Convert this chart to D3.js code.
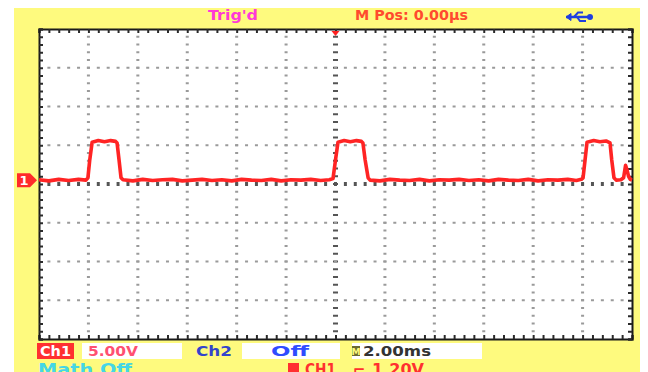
<!DOCTYPE html>
<html>
<head>
<meta charset="utf-8">
<script src="https://cdn.jsdelivr.net/npm/d3@7/dist/d3.min.js"></script>
<style>
  html, body { margin: 0; padding: 0; background: #ffffff; }
  svg { display: block; }
  text { font-family: "DejaVu Sans", "Liberation Sans", sans-serif; font-weight: bold; }
</style>
</head>
<body>
<svg id="scope" width="648" height="372"></svg>
<script>
// ---- Acquisition settings ----
const timePerDiv = 2.0;        // ms / div
const voltsPerDiv = 5.0;       // V / div (CH1)
const hDivs = 12;
const vDivs = 8;
const ch1Offset = 0.5;         // V, ground marker just above screen centre

// ---- CH1 trace samples (time in ms, voltage in V) ----
const traceTime = [
  -12.0, -11.6, -11.2, -10.8, -10.4, -10.1, -10.02, -9.95, -9.85, -9.6, -9.35, -9.1, -8.9, -8.84, -8.76, -8.68, -8.6,
  -8.2, -7.8, -7.4, -7.0, -6.6, -6.2, -5.8, -5.4, -5.0, -4.6, -4.2, -3.8, -3.4, -3.0, -2.6, -2.2, -1.8, -1.4, -1.0, -0.6, -0.25,
  -0.1, 0.0, 0.1, 0.35, 0.6, 0.85, 1.05, 1.11, 1.2, 1.32, 1.4,
  1.8, 2.2, 2.6, 3.0, 3.4, 3.8, 4.2, 4.6, 5.0, 5.4, 5.8, 6.2, 6.6, 7.0, 7.4, 7.8, 8.2, 8.6, 9.0, 9.4, 9.75, 9.95,
  10.02, 10.1, 10.18, 10.45, 10.7, 10.95, 11.11, 11.18, 11.27, 11.36,
  11.55, 11.66, 11.74, 11.8, 11.86, 11.93, 12.0
];
const traceVolts = [
  0.05, -0.1, 0.1, -0.05, 0.1, 0.0, 0.3, 2.5, 4.9, 5.1, 4.95, 5.1, 5.0, 4.8, 2.6, 0.3, 0.05,
  -0.1, 0.1, -0.05, 0.05, 0.1, -0.1, 0.0, 0.1, -0.05, 0.05, -0.1, 0.1, 0.0, -0.05, 0.1, -0.1, 0.05, 0.0, 0.1, -0.05, 0.05,
  0.2, 2.6, 4.9, 5.1, 4.95, 5.1, 5.0, 4.8, 2.6, 0.3, 0.0,
  -0.1, 0.1, 0.0, -0.05, 0.1, -0.1, 0.05, 0.0, 0.1, -0.05, 0.05, -0.1, 0.1, 0.0, -0.05, 0.1, -0.1, 0.05, 0.0, 0.1, -0.05, 0.1,
  0.3, 2.6, 4.9, 5.1, 4.95, 5.05, 4.8, 2.6, 0.3, 0.0,
  0.05, 0.3, 1.9, 1.3, 0.5, 0.1, 0.0
];

// ---- Status text ----
const topLabels = ["Trig'd", "M Pos: 0.00\u00b5s"];
const ch1Labels = ["Ch1", "5.00V"];
const ch2Labels = ["Ch2", "Off"];
const timebaseLabel = "2.00ms";
const mathLabel = "Math  Off";
const trigLabels = ["CH1", "\u2310", "1.20V"];

// ---- Layout ----
const svg = d3.select("#scope");
const screen = { left: 39, top: 29, right: 632, bottom: 339 };

const x = d3.scaleLinear()
  .domain([-hDivs / 2 * timePerDiv, hDivs / 2 * timePerDiv])
  .range([screen.left, screen.right]);
const y = d3.scaleLinear()
  .domain([-vDivs / 2 * voltsPerDiv, vDivs / 2 * voltsPerDiv])
  .range([screen.bottom, screen.top]);

// panel background
svg.append("rect").attr("x", 14).attr("y", 8).attr("width", 626).attr("height", 364)
  .attr("fill", "#fefa7e");

// graticule area
svg.append("rect")
  .attr("x", screen.left).attr("y", screen.top)
  .attr("width", screen.right - screen.left).attr("height", screen.bottom - screen.top)
  .attr("fill", "#ffffff");

const grid = svg.append("g");
const majorX = d3.range(1, hDivs).map(i => x.domain()[0] + i * timePerDiv);
const majorY = d3.range(1, vDivs).map(i => y.domain()[0] + i * voltsPerDiv);
const minorX = d3.range(0, hDivs * 5 + 1).map(i => x.domain()[0] + i * timePerDiv / 5);
const minorY = d3.range(0, vDivs * 5 + 1).map(i => y.domain()[0] + i * voltsPerDiv / 5);

// dotted vertical grid lines
majorX.forEach(t => {
  const centre = t === 0;
  minorY.slice(1, -1).forEach(v => {
    grid.append("rect")
      .attr("x", x(t) - (centre ? 2.5 : 1.5)).attr("y", y(v) - 1)
      .attr("width", centre ? 5 : 3).attr("height", 2)
      .attr("fill", centre ? "#555" : "#9a9a9a");
  });
});
// dotted horizontal grid lines
majorY.forEach(v => {
  const centre = v === 0;
  minorX.slice(1, -1).forEach(t => {
    grid.append("rect")
      .attr("x", x(t) - 1.5).attr("y", y(v) - (centre ? 2 : 1))
      .attr("width", 3).attr("height", centre ? 4 : 2)
      .attr("fill", centre ? "#555" : "#9a9a9a");
  });
});

// screen frame with minor-division ticks
const tickLen = 4;
svg.append("g").attr("transform", `translate(0,${screen.top})`)
  .call(d3.axisBottom(x).tickValues(minorX).tickSize(tickLen).tickFormat(""));
svg.append("g").attr("transform", `translate(0,${screen.bottom})`)
  .call(d3.axisTop(x).tickValues(minorX).tickSize(tickLen).tickFormat(""));
svg.append("g").attr("transform", `translate(${screen.left},0)`)
  .call(d3.axisRight(y).tickValues(minorY).tickSize(tickLen).tickFormat(""));
svg.append("g").attr("transform", `translate(${screen.right},0)`)
  .call(d3.axisLeft(y).tickValues(minorY).tickSize(tickLen).tickFormat(""));
svg.selectAll(".domain").attr("stroke", "#1a1a1a").attr("stroke-width", 2);
svg.selectAll(".tick line").attr("stroke", "#2a2a2a").attr("stroke-width", 2);

// CH1 waveform
const trace = traceTime.map((t, i) => [t, traceVolts[i]]);
svg.append("path")
  .datum(trace)
  .attr("fill", "none")
  .attr("stroke", "#ff2424")
  .attr("stroke-width", 3.6)
  .attr("stroke-linejoin", "round")
  .attr("d", d3.line().x(d => x(d[0])).y(d => y(d[1] + ch1Offset)));

// trigger position marker
const tx = x(0);
svg.append("path")
  .attr("d", `M${tx - 4},${screen.top + 2} L${tx + 4},${screen.top + 2} L${tx},${screen.top + 7} Z`)
  .attr("fill", "#ff2020");

// CH1 ground marker
const gy = y(ch1Offset);
svg.append("path")
  .attr("d", `M17,${gy - 7} L30,${gy - 7} L37,${gy} L30,${gy + 7} L17,${gy + 7} Z`)
  .attr("fill", "#ff2a2a");
svg.append("text").attr("x", 24).attr("y", gy + 5).attr("text-anchor", "middle")
  .attr("font-size", 13).attr("fill", "#ffffff").text("1");

// top status line
svg.append("text").attr("x", 208).attr("y", 20)
  .attr("font-size", 14).attr("fill", "#ff3ad6")
  .attr("textLength", 50).attr("lengthAdjust", "spacingAndGlyphs").text(topLabels[0]);
svg.append("text").attr("x", 355).attr("y", 20)
  .attr("font-size", 14).attr("fill", "#ff4a2e")
  .attr("textLength", 113).attr("lengthAdjust", "spacingAndGlyphs").text(topLabels[1]);

// USB symbol
const usb = svg.append("g").attr("fill", "#1f3fe0").attr("stroke", "#1f3fe0");
usb.append("path").attr("d", "M566,17 L588,17").attr("stroke-width", 2.5);
usb.append("path").attr("d", "M566,17 L571,13.5 L571,20.5 Z").attr("stroke-width", 1);
usb.append("path").attr("d", "M574,17 L578,12.5 L583,12.5").attr("fill", "none").attr("stroke-width", 2);
usb.append("path").attr("d", "M577,17 L580,21 L586,21").attr("fill", "none").attr("stroke-width", 2);
usb.append("circle").attr("cx", 590).attr("cy", 17).attr("r", 3).attr("stroke", "none");

// bottom status: channel 1
svg.append("rect").attr("x", 37).attr("y", 343).attr("width", 37).attr("height", 16).attr("fill", "#ff3030");
svg.append("text").attr("x", 40).attr("y", 356).attr("font-size", 14).attr("fill", "#ffffff")
  .attr("textLength", 31).attr("lengthAdjust", "spacingAndGlyphs").text(ch1Labels[0]);
svg.append("rect").attr("x", 82).attr("y", 343).attr("width", 100).attr("height", 16).attr("fill", "#ffffff");
svg.append("text").attr("x", 88).attr("y", 356).attr("font-size", 14).attr("fill", "#ff5070")
  .attr("font-weight", "normal")
  .attr("textLength", 50).attr("lengthAdjust", "spacingAndGlyphs").text(ch1Labels[1]);

// channel 2
svg.append("text").attr("x", 196).attr("y", 356).attr("font-size", 14).attr("fill", "#3344cc")
  .attr("textLength", 36).attr("lengthAdjust", "spacingAndGlyphs").text(ch2Labels[0]);
svg.append("rect").attr("x", 242).attr("y", 343).attr("width", 98).attr("height", 16).attr("fill", "#ffffff");
svg.append("text").attr("x", 271).attr("y", 356).attr("font-size", 14).attr("fill", "#2f4cff")
  .attr("textLength", 38).attr("lengthAdjust", "spacingAndGlyphs").text(ch2Labels[1]);

// timebase
svg.append("rect").attr("x", 352).attr("y", 343).attr("width", 130).attr("height", 16).attr("fill", "#ffffff");
svg.append("rect").attr("x", 352).attr("y", 346).attr("width", 8).attr("height", 10).attr("fill", "#6b6a30");
svg.append("text").attr("x", 356).attr("y", 355).attr("text-anchor", "middle")
  .attr("font-size", 9).attr("fill", "#fefa7e").text("M");
svg.append("text").attr("x", 363).attr("y", 356).attr("font-size", 14).attr("fill", "#333333")
  .attr("textLength", 68).attr("lengthAdjust", "spacingAndGlyphs").text(timebaseLabel);

// second status row, running off the lower edge of the panel
svg.append("text").attr("x", 38).attr("y", 375).attr("font-size", 15).attr("fill", "#45d6e6")
  .attr("textLength", 94).attr("lengthAdjust", "spacingAndGlyphs").text(mathLabel);
svg.append("rect").attr("x", 288).attr("y", 363).attr("width", 11).attr("height", 10).attr("fill", "#ff3030");
svg.append("text").attr("x", 305).attr("y", 375).attr("font-size", 15).attr("fill", "#ff3030")
  .attr("textLength", 31).attr("lengthAdjust", "spacingAndGlyphs").text(trigLabels[0]);
svg.append("text").attr("x", 353).attr("y", 375).attr("font-size", 15).attr("fill", "#ff3030").text(trigLabels[1]);
svg.append("text").attr("x", 372).attr("y", 375).attr("font-size", 15).attr("fill", "#ff3030")
  .attr("textLength", 52).attr("lengthAdjust", "spacingAndGlyphs").text(trigLabels[2]);
</script>
</body>
</html>
